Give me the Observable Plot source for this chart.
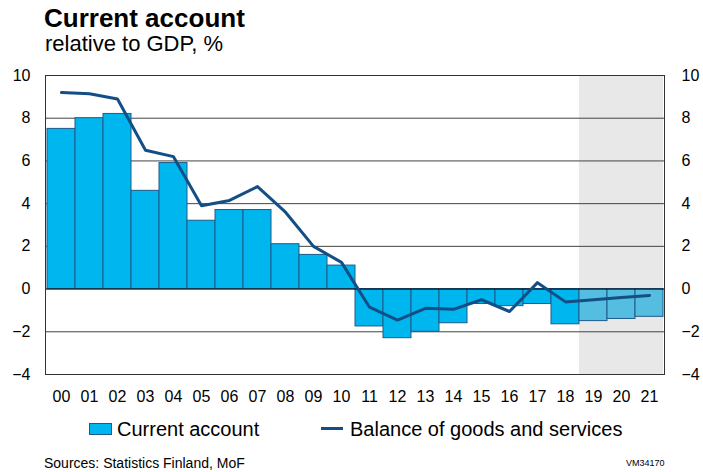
<!DOCTYPE html>
<html>
<head>
<meta charset="utf-8">
<script src="https://cdn.jsdelivr.net/npm/d3@7"></script>
<script src="https://cdn.jsdelivr.net/npm/@observablehq/plot@0.6"></script>
<style>
  body { margin: 0; background: #fff; font-family: "Liberation Sans", Arial, sans-serif; }
  #wrap { position: relative; width: 703px; height: 472px; overflow: hidden; }
  #wrap svg { position: absolute; left: 0; top: 0; }
  .t { position: absolute; line-height: 1; white-space: nowrap; color: #000; }
</style>
</head>
<body>
<div id="wrap">
  <div class="t" style="left:44px; top:5px; font-size:26px; font-weight:bold;">Current account</div>
  <div class="t" style="left:45px; top:33px; font-size:22px;">relative to GDP, %</div>
  <div style="position:absolute; left:89px; top:423px; width:21px; height:10px; background:#00B6EE; border:1px solid #1E5B8A;"></div>
  <div class="t" style="left:117px; top:419px; font-size:20px;">Current account</div>
  <div style="position:absolute; left:321px; top:427px; width:22px; height:3px; background:#134E86;"></div>
  <div class="t" style="left:350px; top:419px; font-size:20px;">Balance of goods and services</div>
  <div class="t" style="left:44px; top:456px; font-size:14px;">Sources: Statistics Finland, MoF</div>
  <div class="t" style="left:626px; top:459px; font-size:9px;">VM34170</div>
</div>
<script>
const years = ["00","01","02","03","04","05","06","07","08","09","10","11","12","13","14","15","16","17","18","19","20","21"];
const currentAccount = [7.5, 8.0, 8.2, 4.6, 5.9, 3.2, 3.7, 3.7, 2.1, 1.6, 1.1, -1.75, -2.3, -2.0, -1.6, -0.7, -0.8, -0.7, -1.65, -1.5, -1.4, -1.3];
const balanceGoodsServices = [9.2, 9.15, 8.9, 6.5, 6.2, 3.9, 4.15, 4.8, 3.6, 2.0, 1.25, -0.85, -1.45, -0.9, -0.95, -0.5, -1.05, 0.3, -0.6, -0.5, -0.4, -0.3];
const forecastYears = ["19","20","21"];
const yTicks = [-4, -2, 0, 2, 4, 6, 8, 10];
const gridValues = [-2, 2, 4, 6, 8];

const data = years.map((y, i) => ({year: y, ca: currentAccount[i], bgs: balanceGoodsServices[i], forecast: forecastYears.includes(y)}));

const chart = Plot.plot({
  width: 703,
  height: 472,
  marginLeft: 45,
  marginRight: 39,
  marginTop: 75,
  marginBottom: 98,
  style: {fontFamily: "'Liberation Sans', Arial, sans-serif", fontSize: "16px", color: "#000", background: "transparent"},
  x: {type: "band", domain: years, padding: 0, label: null},
  y: {domain: [-4, 10], label: null},
  marks: [
    Plot.barY(forecastYears, {x: d => d, y1: -4, y2: 10, fill: "#E8E8E8", insetLeft: 0, insetRight: 0}),
    Plot.ruleY(gridValues, {stroke: "#444", strokeWidth: 1}),
    Plot.barY(data, {x: "year", y: "ca", fill: d => d.forecast ? "#55BEE0" : "#00B6EE", stroke: "#1E5B8A", strokeWidth: 1, insetLeft: 0, insetRight: 0}),
    Plot.ruleY([0], {stroke: "#000", strokeWidth: 1}),
    Plot.lineY(data, {x: "year", y: "bgs", stroke: "#134E86", strokeWidth: 3}),
    Plot.frame({stroke: "#333", strokeWidth: 1}),
    Plot.axisY(yTicks, {anchor: "left", tickSize: 0, tickPadding: 15, fontSize: 16}),
    Plot.axisY(yTicks, {anchor: "right", tickSize: 0, tickPadding: 17, fontSize: 16}),
    Plot.axisX({anchor: "bottom", tickSize: 0, tickPadding: 16, fontSize: 16})
  ]
});
document.getElementById("wrap").prepend(chart);
</script>
</body>
</html>
